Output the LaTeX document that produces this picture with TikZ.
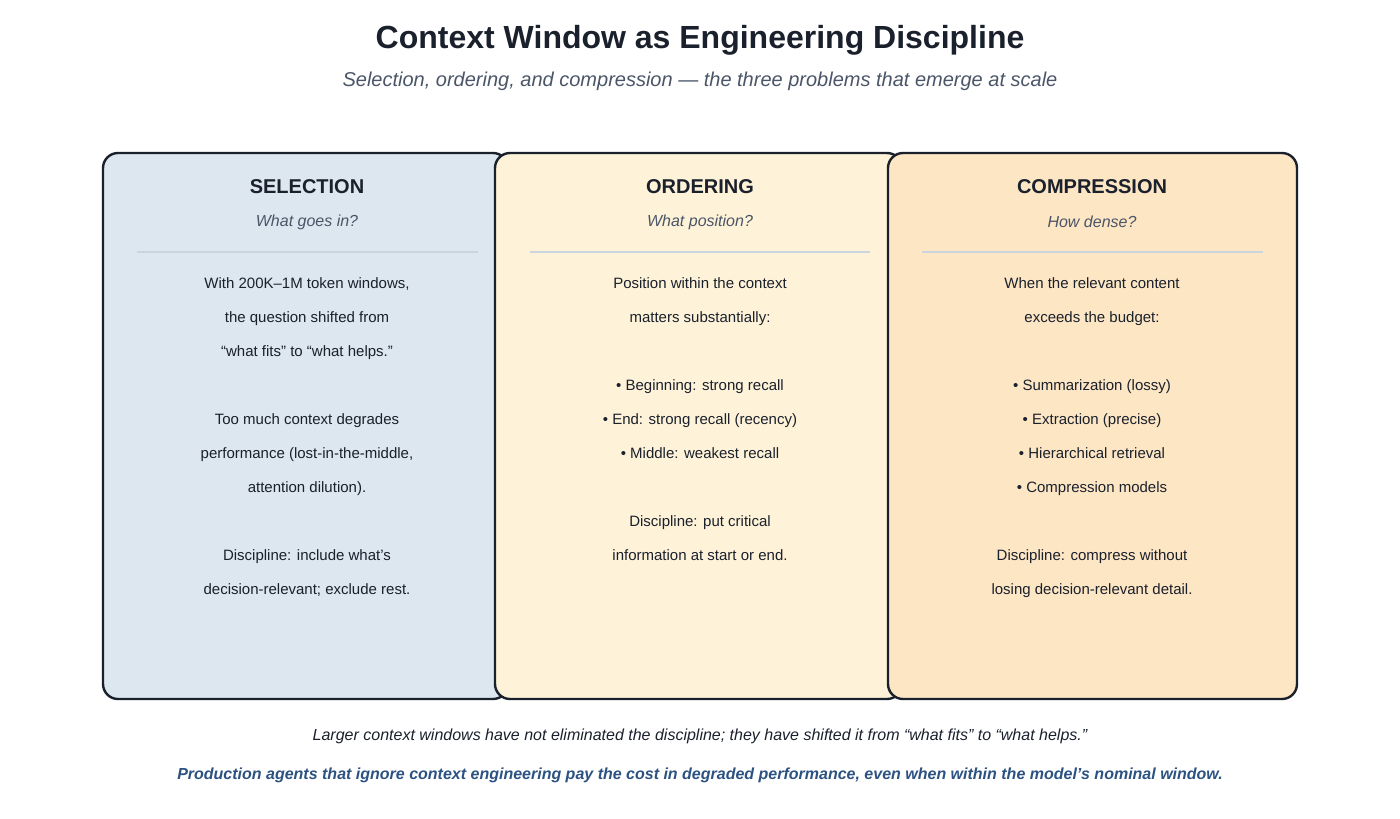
\documentclass[tikz,border=0pt]{standalone}
\usepackage{fontspec}
\setmainfont{Liberation Sans}
\usetikzlibrary{positioning}
\definecolor{ink}{HTML}{1A202C}
\definecolor{subgray}{HTML}{4A5568}
\definecolor{rulegray}{HTML}{CBD5E0}
\definecolor{selfill}{HTML}{DDE7F0}
\definecolor{ordfill}{HTML}{FEF3D8}
\definecolor{cmpfill}{HTML}{FDE6C4}
\definecolor{navy}{HTML}{2C5282}
\tikzset{card/.style={draw=ink,line width=2.4pt,rounded corners=15pt}}
\tikzset{head/.style={font=\fontsize{20}{24}\selectfont\bfseries,text=ink,inner sep=0pt}}
\tikzset{ask/.style={font=\fontsize{16}{20}\selectfont\itshape,text=subgray,inner sep=0pt}}
\tikzset{body/.style={font=\fontsize{15}{34}\selectfont,text=ink,align=center,inner sep=0pt,anchor=north}}
\tikzset{sep/.style={rulegray,line width=1.6pt}}
\begin{document}
\begin{tikzpicture}[x=1pt,y=-1pt]
\useasboundingbox (0,0) rectangle (1400,819);
\node[font=\fontsize{32}{38}\selectfont\bfseries,text=ink] (title) at (700,40) {Context Window as Engineering Discipline};
\node[font=\fontsize{20}{24}\selectfont\itshape,text=subgray] (sub) at (700,81) {Selection, ordering, and compression — the three problems that emerge at scale};

% cards
\draw[card,fill=selfill] (103,153) rectangle (508,699);
\draw[card,fill=ordfill] (495,153) rectangle (902,699);
\draw[card,fill=cmpfill] (888,153) rectangle (1297,699);

\node[head] (selh) at (307,187) {SELECTION};
\node[ask] (selq) at (307,222) {What goes in?};
\draw[sep] (137,252) -- (478,252);
\node[body] (selb) at (307,277) {With 200K–1M token windows,\\the question shifted from\\“what fits” to “what helps.”\\[34pt]Too much context degrades\\performance (lost-in-the-middle,\\attention dilution).\\[34pt]Discipline: include what’s\\decision-relevant; exclude rest.};

\node[head] (ordh) at (700,187) {ORDERING};
\node[ask] (ordq) at (700,222) {What position?};
\draw[sep] (530,252) -- (870,252);
\node[body] (ordb) at (700,277) {Position within the context\\matters substantially:\\[34pt]• Beginning: strong recall\\• End: strong recall (recency)\\• Middle: weakest recall\\[34pt]Discipline: put critical\\information at start or end.};

\node[head] (cmph) at (1092,187) {COMPRESSION};
\node[ask] (cmpq) at (1092,222) {How dense?};
\draw[sep] (922,252) -- (1263,252);
\node[body] (cmpb) at (1092,277) {When the relevant content\\exceeds the budget:\\[34pt]• Summarization (lossy)\\• Extraction (precise)\\• Hierarchical retrieval\\• Compression models\\[34pt]Discipline: compress without\\losing decision-relevant detail.};

\node[font=\fontsize{16}{20}\selectfont\itshape,text=ink] (note) at (700,736) {Larger context windows have not eliminated the discipline; they have shifted it from “what fits” to “what helps.”};
\node[font=\fontsize{16}{20}\selectfont\bfseries\itshape,text=navy] (claim) at (700,775) {Production agents that ignore context engineering pay the cost in degraded performance, even when within the model’s nominal window.};
\end{tikzpicture}
\end{document}
